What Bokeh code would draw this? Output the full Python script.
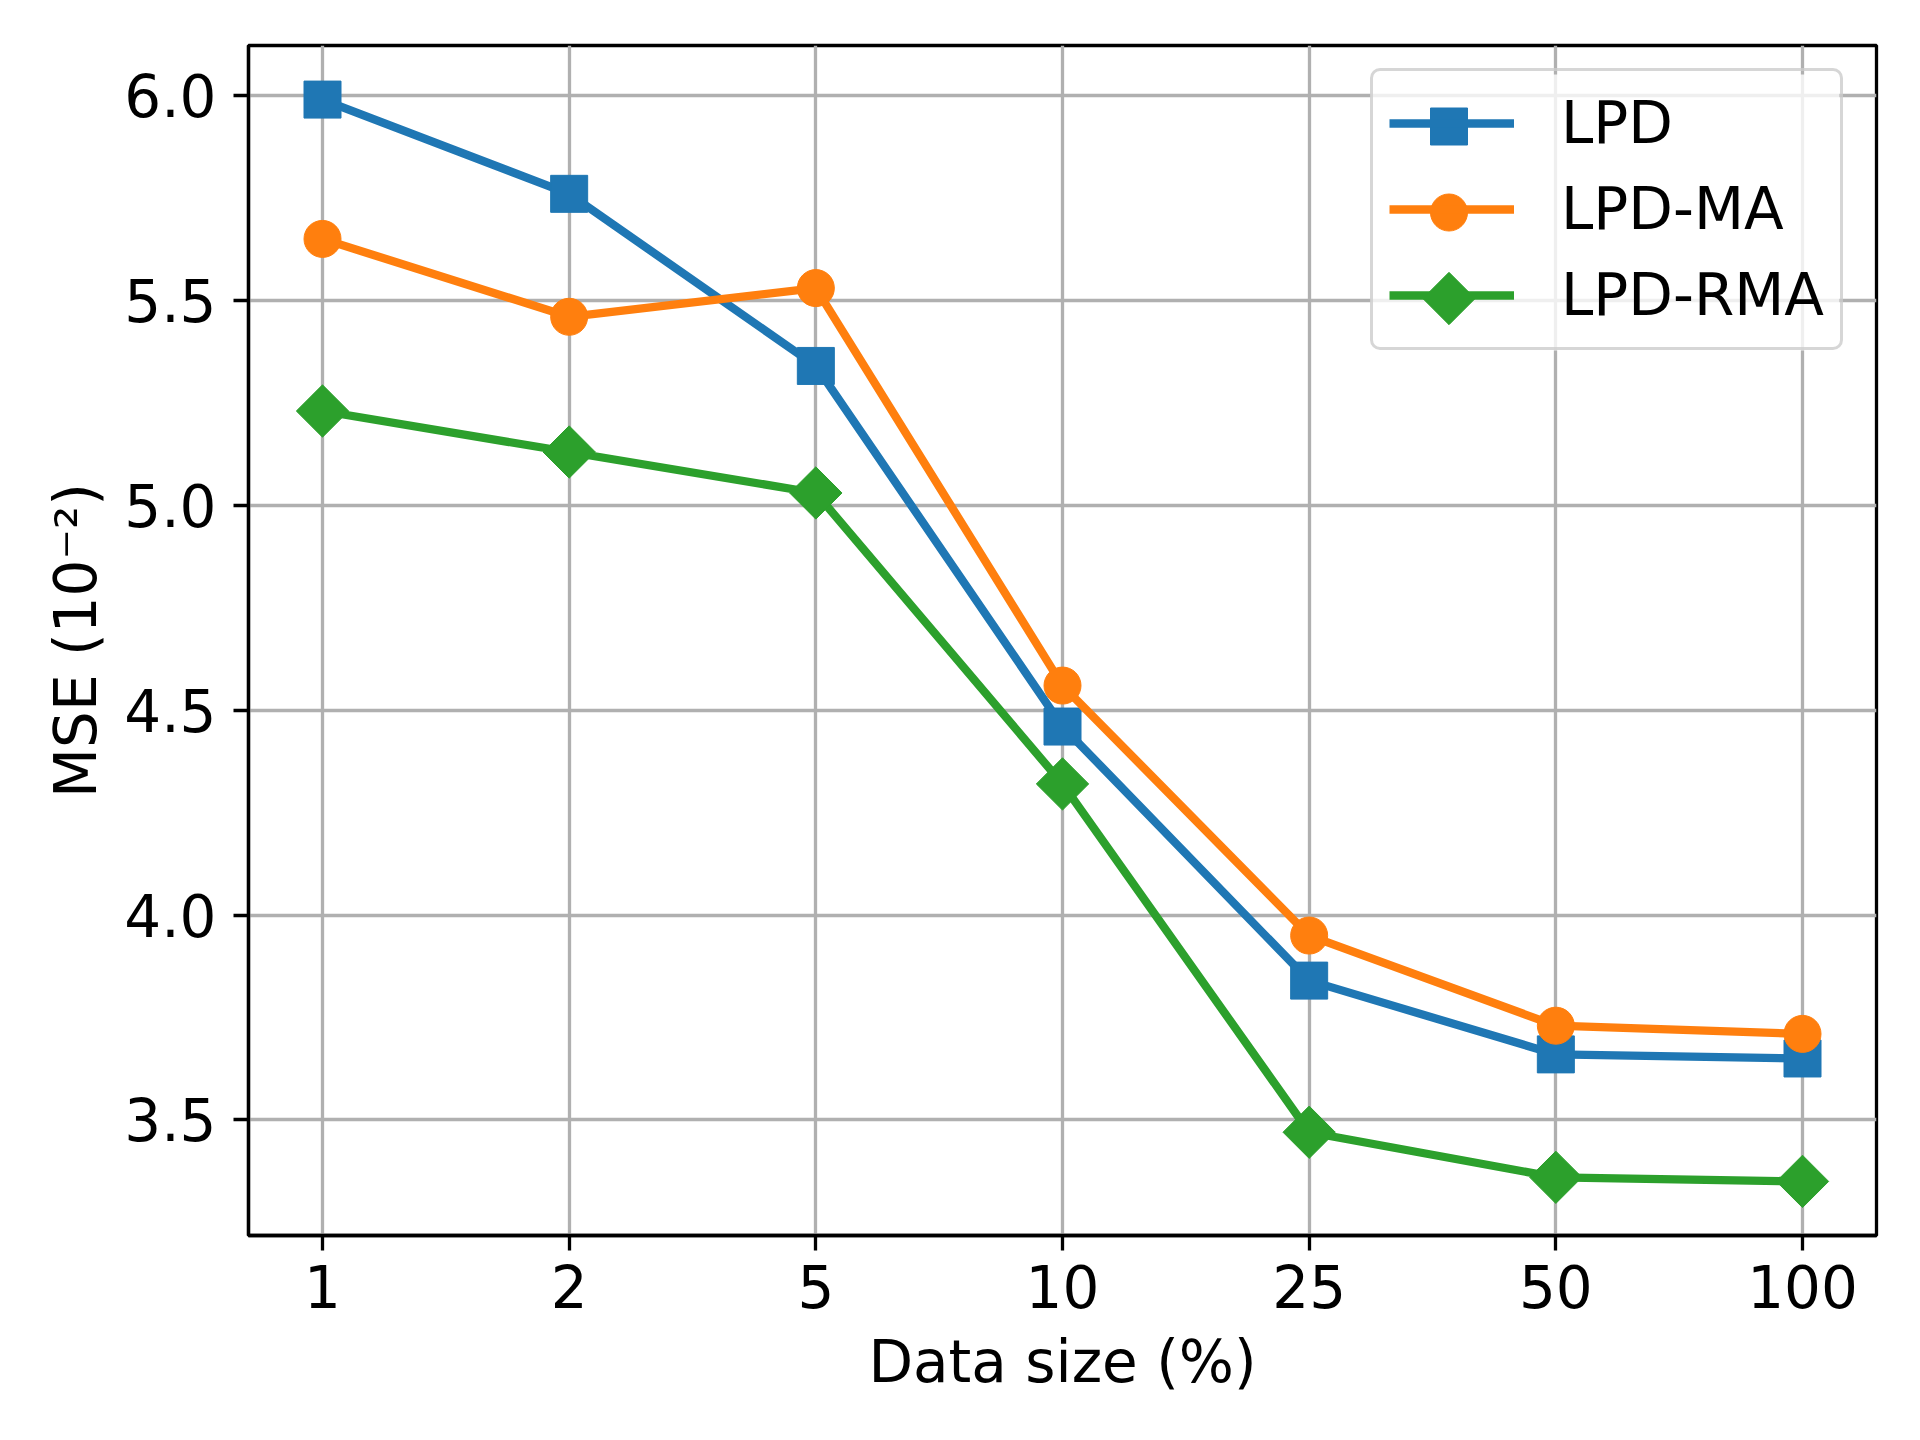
from bokeh.plotting import figure
from bokeh.models import FixedTicker, Range1d, Legend, LegendItem, Quad
from bokeh.embed import file_html
from bokeh.resources import INLINE

# ---- data ----
x_labels = ["1", "2", "5", "10", "25", "50", "100"]
lpd = [5.99, 5.76, 5.34, 4.46, 3.84, 3.66, 3.65]
lpd_ma = [5.65, 5.46, 5.53, 4.56, 3.95, 3.73, 3.71]
lpd_rma = [5.23, 5.13, 5.03, 4.32, 3.47, 3.36, 3.35]
series_names = ["LPD", "LPD-MA", "LPD-RMA"]
series_values = [lpd, lpd_ma, lpd_rma]
colors = ["#1f77b4", "#ff7f0e", "#2ca02c"]
markers = ["square", "circle", "square"]
angles = [0.0, 0.0, 0.785398]
x_title = "Data size (%)"
y_title = "MSE (10\u207b\u00b2)"

x = list(range(len(x_labels)))
allv = lpd + lpd_ma + lpd_rma
lo, hi = min(allv), max(allv)
pad = 0.05 * (hi - lo)
xpad = 0.05 * (len(x) - 1)

FONT = "DejaVu Sans"
FS = "58px"
FW, FH = 1628, 1190

p = figure(frame_width=FW, frame_height=FH,
           x_range=Range1d(-xpad, len(x) - 1 + xpad),
           y_range=Range1d(lo - pad, hi + pad),
           output_backend="svg", toolbar_location=None,
           min_border_left=248, min_border_right=30,
           min_border_top=45, min_border_bottom=190)
# pixel ranges for the legend box / sample markers
p.extra_x_ranges = {"px": Range1d(0, FW)}
p.extra_y_ranges = {"px": Range1d(0, FH)}

p.background_fill_color = "white"
p.border_fill_color = "white"
p.outline_line_color = "black"
p.outline_line_width = 3.3

p.xaxis.ticker = FixedTicker(ticks=x)
p.xaxis.major_label_overrides = {i: lab for i, lab in zip(x, x_labels)}
p.yaxis.ticker = FixedTicker(ticks=[3.5, 4.0, 4.5, 5.0, 5.5, 6.0])
p.yaxis.major_label_overrides = {3.5: "3.5", 4.0: "4.0", 4.5: "4.5",
                                 5.0: "5.0", 5.5: "5.5", 6.0: "6.0"}

for ax in (p.xaxis[0], p.yaxis[0]):
    ax.axis_line_color = "black"
    ax.axis_line_width = 3.3
    ax.major_tick_out = 15
    ax.major_tick_in = 0
    ax.major_tick_line_width = 3.3
    ax.minor_tick_line_color = None
    ax.major_label_text_font = FONT
    ax.major_label_text_font_size = FS
    ax.major_label_text_color = "black"
    ax.axis_label_text_font = FONT
    ax.axis_label_text_font_size = FS
    ax.axis_label_text_font_style = "normal"
    ax.axis_label_text_color = "black"

p.xaxis.axis_label = x_title
p.yaxis.axis_label = y_title
p.xaxis.major_label_standoff = 14
p.yaxis.major_label_standoff = 17
p.xaxis.axis_label_standoff = 17
p.yaxis.axis_label_standoff = 11

p.xgrid.grid_line_color = "#b0b0b0"
p.ygrid.grid_line_color = "#b0b0b0"
p.xgrid.grid_line_width = 3.3
p.ygrid.grid_line_width = 3.3

items = []
for name, vals, col, mk, ang in zip(series_names, series_values, colors, markers, angles):
    ln = p.line(x, vals, line_color=col, line_width=8.3)
    p.scatter(x, vals, marker=mk, size=37, angle=ang,
              fill_color=col, line_color=col, line_width=1)
    items.append(LegendItem(label=name, renderers=[ln]))

# legend layout (screen px inside the frame)
LG_W, LG_H, LG_SP, LG_PAD, LG_TOP, LG_LEFT, LG_WIDTH = 125, 72, 14, 16, 29, 1122, 469
n = len(items)
legend_h = 2 * LG_PAD + n * LG_H + (n - 1) * LG_SP
legend_bottom = FH - LG_TOP - legend_h

# semi-transparent legend background, drawn as a glyph beneath the sample markers
bg = p.quad(left=[LG_LEFT], right=[LG_LEFT + LG_WIDTH],
            bottom=[legend_bottom], top=[legend_bottom + legend_h],
            fill_color="white", fill_alpha=0.8, line_color=None,
            x_range_name="px", y_range_name="px")
if "border_radius" in Quad.properties():
    bg.glyph.border_radius = 10

legend = Legend(items=items, location=(LG_LEFT, legend_bottom))
legend.label_text_font = FONT
legend.label_text_font_size = FS
legend.label_text_color = "black"
legend.glyph_width = LG_W
legend.glyph_height = LG_H
legend.label_height = LG_H
legend.label_standoff = 47
legend.spacing = LG_SP
legend.padding = LG_PAD
legend.margin = 0
legend.border_line_color = "#cccccc"
legend.border_line_width = 3
legend.border_line_alpha = 0.8
legend.background_fill_alpha = 0
if "border_radius" in Legend.properties():
    legend.border_radius = 10
p.add_layout(legend)

# legend sample markers (the diamond keeps its square-diamond shape)
for i, (col, mk, ang) in enumerate(zip(colors, markers, angles)):
    cx = LG_LEFT + LG_PAD + LG_W / 2
    cy = FH - (LG_TOP + LG_PAD + LG_H / 2 + i * (LG_H + LG_SP))
    p.scatter([cx], [cy], marker=mk, size=37, angle=ang,
              fill_color=col, line_color=col, line_width=1,
              x_range_name="px", y_range_name="px")

open("out.html", "w").write(file_html(p, INLINE))
